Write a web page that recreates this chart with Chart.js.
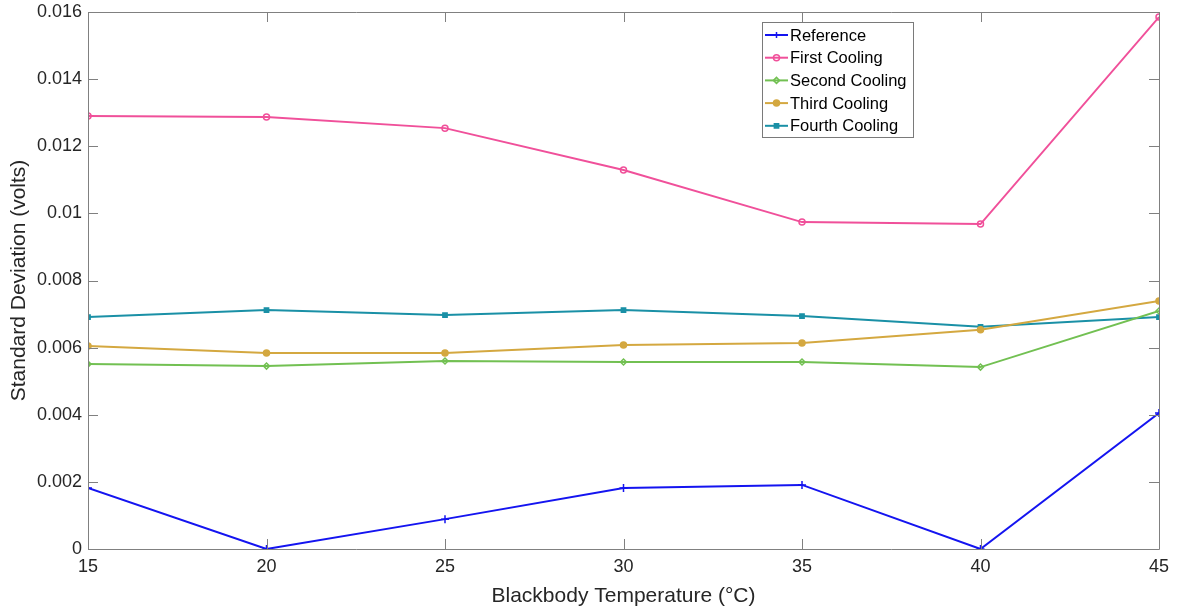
<!DOCTYPE html>
<html><head><meta charset="utf-8">
<script src="https://cdn.jsdelivr.net/npm/chart.js@4.4.1/dist/chart.umd.min.js"></script>
<style>html,body{margin:0;padding:0;background:#fff}#wrap{width:1179px;height:609px}</style>
</head><body><div id="wrap"><canvas id="c" width="1179" height="609"></canvas></div>
<script>
const temperatures = [15, 20, 25, 30, 35, 40, 45];
const referenceSD = [0.00182, 0.0, 0.00089, 0.00182, 0.00191, 0.0, 0.00405];
const firstCooling = [0.01290, 0.01287, 0.01254, 0.01129, 0.00974, 0.00968, 0.01585];
const secondCooling = [0.00551, 0.00545, 0.00560, 0.00557, 0.00557, 0.00542, 0.00709];
const thirdCooling = [0.00605, 0.00584, 0.00584, 0.00608, 0.00614, 0.00653, 0.00739];
const fourthCooling = [0.00691, 0.00712, 0.00697, 0.00712, 0.00694, 0.00662, 0.00691];
const yTicks = [0, 0.002, 0.004, 0.006, 0.008, 0.01, 0.012, 0.014, 0.016];
const xTicks = [15, 20, 25, 30, 35, 40, 45];

const FONT = '"Liberation Sans", Arial, Helvetica, sans-serif';
const TXT = '#262626';
const AX = '#808080';

function mk(label, data, color, style, filled) {
  return {
    label, data: temperatures.map((t, i) => ({x: t, y: data[i]})),
    borderColor: color, backgroundColor: filled ? color : '#ffffff',
    pointBorderColor: color, pointBackgroundColor: filled ? color : 'rgba(255,255,255,0)',
    pointStyle: style, pointRadius: style === 'cross' ? 4 : 3, pointBorderWidth: 1.5,
    borderWidth: 2, tension: 0, fill: false
  };
}

const datasets = [
  mk('Reference', referenceSD, '#1414f0', 'cross', false),
  mk('First Cooling', firstCooling, '#f0509a', 'circle', false),
  mk('Second Cooling', secondCooling, '#72c052', 'rectRot', false),
  mk('Third Cooling', thirdCooling, '#d4a840', 'circle', true),
  mk('Fourth Cooling', fourthCooling, '#1a90a6', 'rect', true)
];

const boxPlugin = {
  id: 'box',
  afterDraw(chart) {
    const ctx = chart.ctx, a = chart.chartArea;
    const xs = chart.scales.x, ys = chart.scales.y;
    ctx.save();
    ctx.strokeStyle = AX; ctx.lineWidth = 1;
    ctx.beginPath();
    ctx.rect(Math.round(a.left) + 0.5, Math.round(a.top) + 0.5, Math.round(a.right - a.left), Math.round(a.bottom - a.top));
    ctx.stroke();
    const L = 10;
    ctx.beginPath();
    xTicks.forEach(v => {
      const px = Math.round(xs.getPixelForValue(v)) + 0.5;
      ctx.moveTo(px, a.bottom); ctx.lineTo(px, a.bottom - L);
      ctx.moveTo(px, a.top); ctx.lineTo(px, a.top + L);
    });
    yTicks.forEach(v => {
      const py = Math.round(ys.getPixelForValue(v)) + 0.5;
      ctx.moveTo(a.left, py); ctx.lineTo(a.left + L, py);
      ctx.moveTo(a.right, py); ctx.lineTo(a.right - L, py);
    });
    ctx.stroke();
    // legend
    const lx = 762, ly = 22, lw = 151, lh = 115;
    ctx.fillStyle = '#fff';
    ctx.fillRect(lx, ly, lw, lh);
    ctx.strokeStyle = '#7a7a7a'; ctx.lineWidth = 1;
    ctx.strokeRect(lx + 0.5, ly + 0.5, lw, lh);
    ctx.font = '16.5px ' + FONT;
    ctx.textBaseline = 'middle';
    chart.data.datasets.forEach((ds, i) => {
      const y = ly + 13 + i * 22.7;
      ctx.strokeStyle = ds.borderColor; ctx.lineWidth = 2;
      ctx.beginPath(); ctx.moveTo(lx + 3, y); ctx.lineTo(lx + 26, y); ctx.stroke();
      ctx.save();
      ctx.fillStyle = ds.pointBackgroundColor;
      ctx.strokeStyle = ds.borderColor; ctx.lineWidth = 1.5;
      Chart.helpers.drawPoint(ctx, {pointStyle: ds.pointStyle, radius: 3, borderWidth: 1.5, rotation: 0}, lx + 14.5, y);
      ctx.restore();
      ctx.fillStyle = '#000';
      ctx.fillText(ds.label, lx + 28, y + 1);
    });
    ctx.restore();
  }
};

new Chart(document.getElementById('c'), {
  type: 'line',
  data: { datasets },
  plugins: [boxPlugin],
  options: {
    responsive: false, animation: false,
    layout: { padding: { top: 12, right: 20, left: 0, bottom: 0 } },
    plugins: { legend: { display: false }, tooltip: { enabled: false } },
    scales: {
      x: {
        type: 'linear', min: 15, max: 45,
        afterFit: s => { s.height = 60; s.paddingLeft = 0; s.paddingRight = 0; },
        afterBuildTicks: s => { s.ticks = xTicks.map(v => ({value: v})); },
        grid: { display: false, drawTicks: false },
        border: { display: false },
        ticks: { color: TXT, font: { family: FONT, size: 18 }, padding: 7, maxRotation: 0 },
        title: { display: true, text: 'Blackbody Temperature (°C)', color: TXT, font: { family: FONT, size: 21 }, padding: { top: 4, bottom: 0 } }
      },
      y: {
        type: 'linear', min: 0, max: 0.016,
        afterFit: s => { s.width = 88; s.paddingTop = 0; s.paddingBottom = 0; },
        afterBuildTicks: s => { s.ticks = yTicks.map(v => ({value: v})); },
        grid: { display: false, drawTicks: false },
        border: { display: false },
        ticks: { color: TXT, font: { family: FONT, size: 18 }, padding: 6, callback: v => String(+v.toFixed(3)) },
        title: { display: true, text: 'Standard Deviation (volts)', color: TXT, font: { family: FONT, size: 21 }, padding: { top: 7, bottom: 0 } }
      }
    }
  }
});
</script></body></html>
